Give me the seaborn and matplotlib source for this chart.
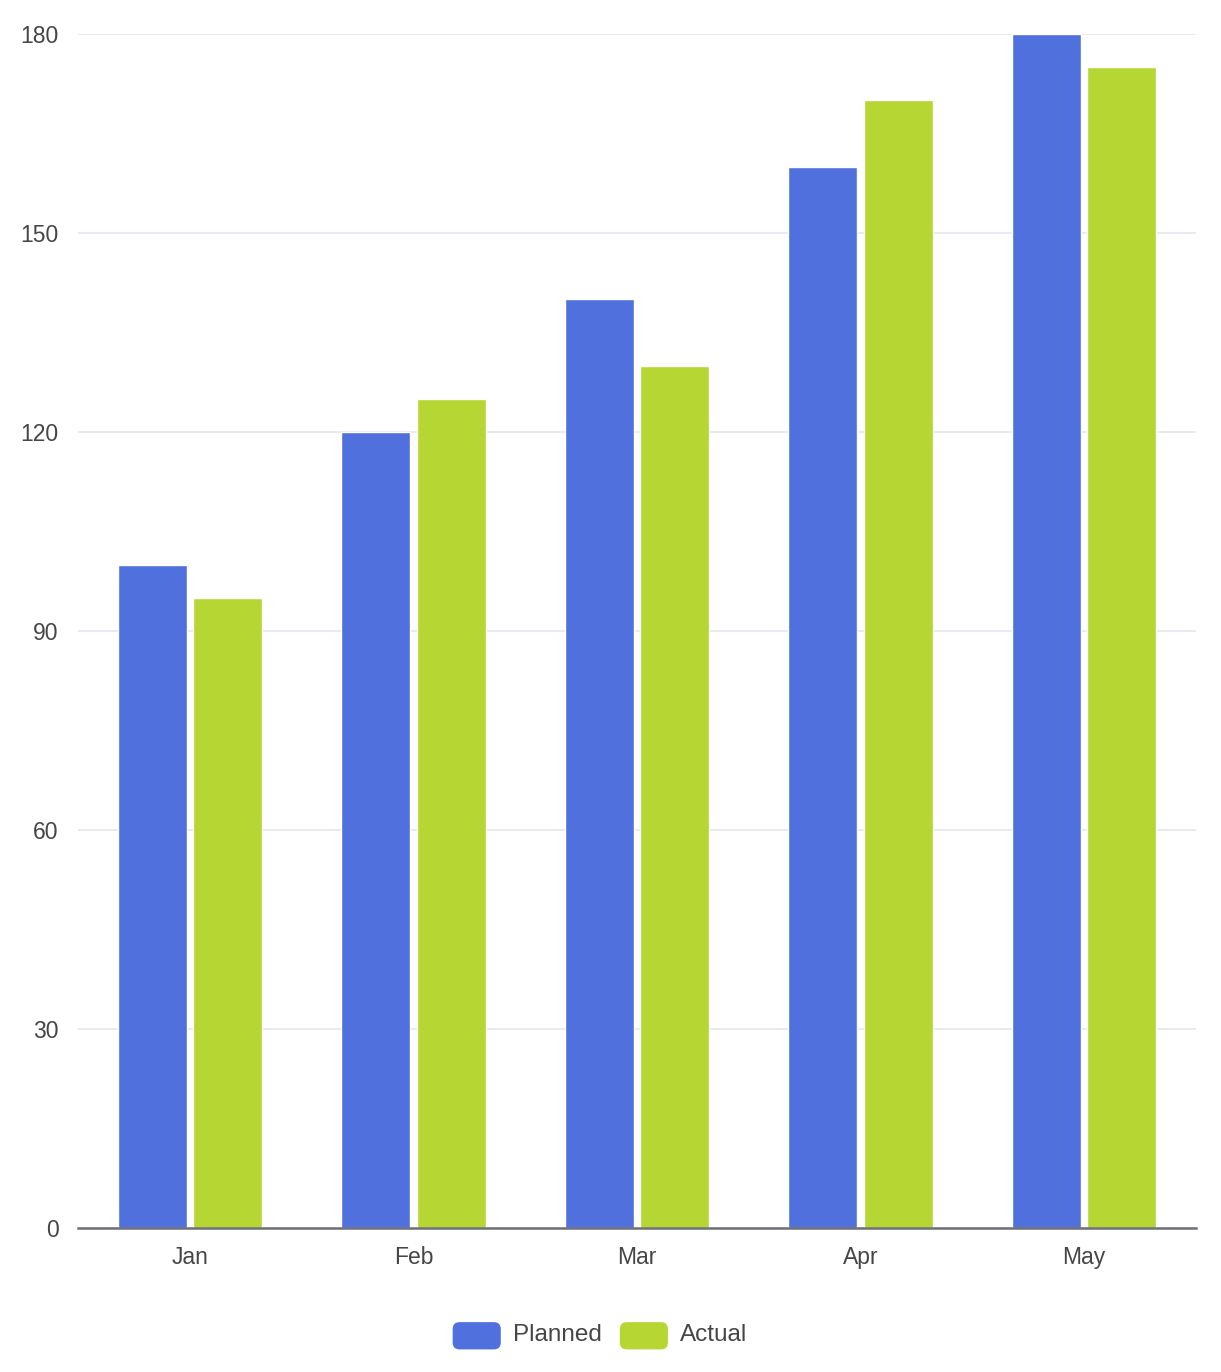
import matplotlib
matplotlib.use("Agg")
import matplotlib.pyplot as plt
import seaborn as sns
import pandas as pd
from matplotlib.patches import FancyBboxPatch, Patch
from matplotlib.legend_handler import HandlerPatch

# dados
meses = ["Jan", "Feb", "Mar", "Apr", "May"]
planejado = [100, 120, 140, 160, 180]
realizado = [95, 125, 130, 170, 175]
series = ["Planned", "Actual"]
cores = ["#5070dd", "#b6d634"]
y_ticks = [0, 30, 60, 90, 120, 150, 180]

df = pd.DataFrame({
    "mes": meses * 2,
    "valor": planejado + realizado,
    "serie": [series[0]] * len(meses) + [series[1]] * len(meses),
})

sns.set_style("white")
plt.rcParams["font.family"] = ["Liberation Sans", "DejaVu Sans"]
cor_texto = "#464646"

fig = plt.figure(figsize=(12.21, 13.72), dpi=100)
ax = fig.add_axes([78 / 1221, 1 - 1228 / 1372, (1196 - 78) / 1221, (1228 - 34) / 1372])

sns.barplot(data=df, x="mes", y="valor", hue="serie", palette=cores,
            width=0.675, gap=0.085, saturation=1, ax=ax, legend=False)

ax.set_ylim(0, 180)
ax.set_xlim(-0.5, len(meses) - 0.5)
ax.set_yticks(y_ticks)
ax.yaxis.grid(True, color="#e0e6f1", linewidth=1.2)
ax.set_axisbelow(True)
for lado in ["top", "right", "left"]:
    ax.spines[lado].set_visible(False)
ax.spines["bottom"].set_color("#6e7079")
ax.spines["bottom"].set_linewidth(1.8)
ax.tick_params(axis="both", length=0, labelsize=16.5, colors=cor_texto)
ax.tick_params(axis="x", pad=13)
ax.tick_params(axis="y", pad=14)
ax.set_xlabel("")
ax.set_ylabel("")


# legenda com cantos arredondados
class HandlerRedondo(HandlerPatch):
    def create_artists(self, legend, orig_handle, xdescent, ydescent,
                       width, height, fontsize, trans):
        p = FancyBboxPatch((-xdescent, -ydescent - 2), width, height,
                           boxstyle="round,pad=0,rounding_size=5",
                           facecolor=orig_handle.get_facecolor(),
                           edgecolor="none", transform=trans)
        return [p]


handles = [Patch(facecolor=c, label=s) for c, s in zip(cores, series)]
fig.legend(handles=handles, loc="center", bbox_to_anchor=(600 / 1221, 1 - 1333 / 1372),
           ncol=2, frameon=False, fontsize=17.5, labelcolor=cor_texto,
           handlelength=1.98, handleheight=1.35, handletextpad=0.5, columnspacing=0.74,
           handler_map={Patch: HandlerRedondo()})

fig.savefig("out.png", dpi=100)
